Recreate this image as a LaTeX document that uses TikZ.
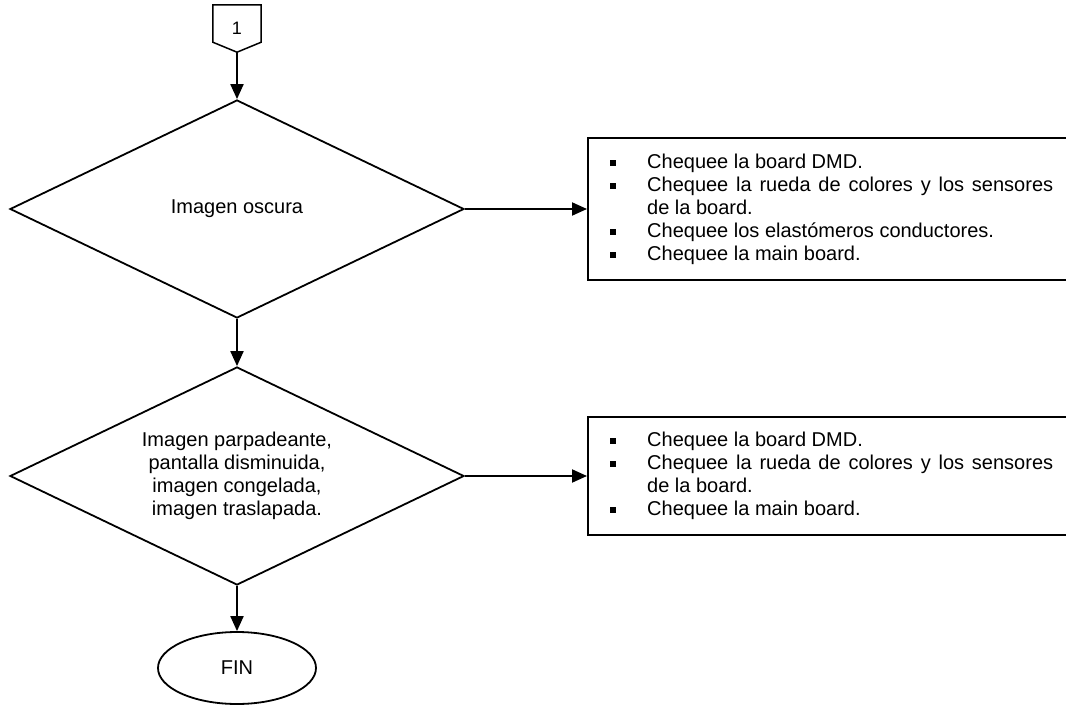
\documentclass[tikz,border=0pt]{standalone}
\usepackage{fontspec}
\setmainfont{Liberation Sans}
\usetikzlibrary{shapes.geometric,arrows.meta}
\newcommand\myitem[1]{\par\noindent\hangindent=37pt\hangafter=1\makebox[37pt][l]{\rule[2.5pt]{5.5pt}{5.5pt}}#1\par}
\begin{document}
\begin{tikzpicture}[x=1pt,y=-1pt,
  txt/.style={font=\fontsize{20}{23}\selectfont},
  shapeline/.style={draw, line width=1.8pt},
  decision/.style={shapeline, diamond, aspect=2.08, inner sep=0pt, minimum width=454pt, minimum height=218pt, align=center, txt},
  endnode/.style={shapeline, ellipse, inner sep=0pt, minimum width=158pt, minimum height=72pt, txt},
  actionbox/.style={draw, line width=2.2pt, anchor=west, minimum width=520pt, inner sep=0pt},
  listtext/.style={anchor=north west, inner sep=0pt, text width=443pt, align=justify, txt},
  flow/.style={line width=2pt, -{Triangle[length=15pt,width=13pt]}},
]
\useasboundingbox (0,0) rectangle (1066,706);
\clip (0,0) rectangle (1066,706);

% off-page connector
\node[inner sep=0pt, minimum width=48pt, minimum height=47pt, font=\fontsize{18}{18}\selectfont] (c1) at (237,28.5) {\raisebox{-2.5pt}{1}};
\draw[line width=1.5pt] (c1.north west) -- (c1.north east) -- ([yshift=10pt]c1.south east) -- (c1.south) -- ([yshift=10pt]c1.south west) -- cycle;

% decisions
\node[decision] (d1) at (237,209) {Imagen oscura};
\node[decision] (d2) at (237,476) {Imagen parpadeante,\\pantalla disminuida,\\imagen congelada,\\imagen traslapada.};

% end
\node[endnode] (fin) at (237,668) {FIN};

% action boxes
\node[actionbox, minimum height=142pt] (b1) at (587,209) {};
\node[actionbox, minimum height=118pt] (b2) at (587,476) {};

\node[listtext] (t1) at (610,145) {%
\myitem{Chequee la board DMD.}%
\myitem{Chequee la rueda de colores y los sensores\linebreak de la board.}%
\myitem{Chequee los elastómeros conductores.}%
\myitem{Chequee la main board.}};

\node[listtext] (t2) at (610,423) {%
\myitem{Chequee la board DMD.}%
\myitem{Chequee la rueda de colores y los sensores\linebreak de la board.}%
\myitem{Chequee la main board.}};

% connectors
\draw[flow] (c1.south) -- (d1.north);
\draw[flow] (d1.south) -- (d2.north);
\draw[flow] (d2.south) -- (fin.north);
\draw[flow] (d1.east) -- (b1.west);
\draw[flow] (d2.east) -- (b2.west);
\end{tikzpicture}
\end{document}
